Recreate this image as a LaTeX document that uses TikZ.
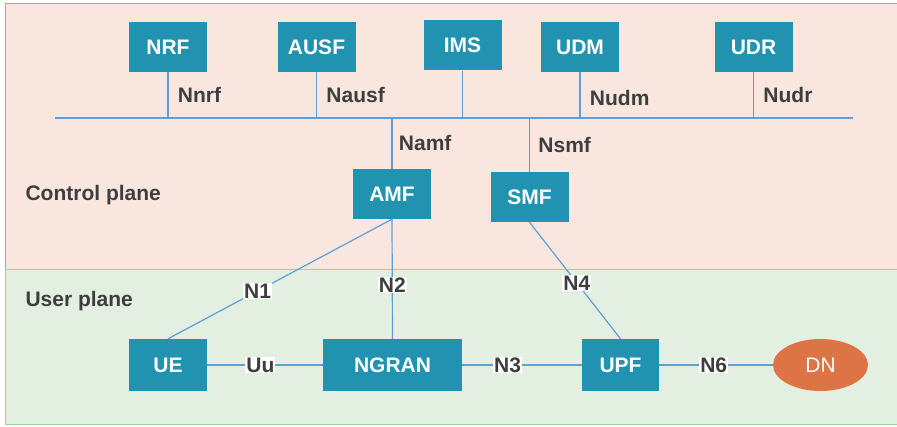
\documentclass[tikz,border=0pt]{standalone}
\usepackage{fontspec}
\setmainfont{Liberation Sans}
\definecolor{nfteal}{RGB}{33,147,176}
\definecolor{cpfill}{RGB}{248,230,223}
\definecolor{cpedge}{RGB}{241,145,107}
\definecolor{upfill}{RGB}{226,239,225}
\definecolor{upedge}{RGB}{150,214,150}
\definecolor{ifline}{RGB}{96,158,216}
\definecolor{dnorange}{RGB}{221,116,70}
\definecolor{lbgray}{RGB}{62,62,62}
\usetikzlibrary{shapes.geometric}

\begin{document}
\begin{tikzpicture}[x=1pt,y=-1pt,
    nfbox/.style={fill=nfteal,text=white,inner sep=0pt,
        minimum width=78pt,minimum height=50pt,
        font=\fontsize{21}{25}\selectfont\bfseries},
    iface/.style={draw=ifline,line width=1.2pt},
    ifname/.style={text=lbgray,font=\fontsize{21}{25}\selectfont\bfseries},
    iftag/.style={fill=white,inner sep=1pt,text=lbgray,
        font=\fontsize{21}{25}\selectfont\bfseries}]
  \useasboundingbox (0,0) rectangle (897,427);
  % Planes
  \draw[fill=cpfill,draw=cpedge,line width=1pt] (5,4) rectangle (902,270);
  \draw[fill=upfill,draw=upedge,line width=1pt] (5,270) rectangle (902,425);
  \node[ifname,anchor=west] (cplane) at (22,195) {Control plane};
  \node[ifname,anchor=west] (uplane) at (22,301) {User plane};
  % Network functions
  \node[nfbox] (nrf) at (168,47) {NRF};
  \node[nfbox] (ausf) at (316.5,47) {AUSF};
  \node[nfbox] (ims) at (462.5,45.5) {IMS};
  \node[nfbox] (udm) at (580,47) {UDM};
  \node[nfbox] (udr) at (753.5,47) {UDR};
  \node[nfbox] (amf) at (392,194) {AMF};
  \node[nfbox] (smf) at (529.5,197) {SMF};
  \node[nfbox,minimum height=52pt] (ue) at (168,365) {UE};
  \node[nfbox,minimum width=139pt,minimum height=52pt] (ngran) at (392.5,365) {NGRAN};
  \node[nfbox,minimum width=77pt,minimum height=52pt] (upf) at (620.5,365) {UPF};
  \node[ellipse,fill=dnorange,text=white,inner sep=0pt,
        minimum width=95pt,minimum height=52pt,
        font=\fontsize{21}{25}\selectfont] (dn) at (820.5,365) {DN};
  % Service bus
  \coordinate (busL) at (55,118);
  \coordinate (busR) at (853,118);
  \draw[iface] (busL) -- (busR);
  \draw[iface] (nrf.south) -- (nrf.south |- busL)
        node[midway,ifname,anchor=west,xshift=6pt] {Nnrf};
  \draw[iface] (ausf.south) -- (ausf.south |- busL)
        node[midway,ifname,anchor=west,xshift=6pt] {Nausf};
  \draw[iface] (ims.south) -- (ims.south |- busL);
  \draw[iface] (udm.south) -- (udm.south |- busL)
        node[midway,ifname,anchor=west,xshift=6pt,yshift=-3pt] {Nudm};
  \draw[iface] (udr.south) -- (udr.south |- busL)
        node[midway,ifname,anchor=west,xshift=6pt] {Nudr};
  \draw[iface] (amf.north) -- (amf.north |- busL)
        node[midway,ifname,anchor=west,xshift=3pt] {Namf};
  \draw[iface] (smf.north) -- (smf.north |- busL)
        node[midway,ifname,anchor=west,xshift=5pt] {Nsmf};
  % Reference points
  \draw[iface] (amf.south) -- (ue.north) node[pos=0.6,iftag] {N1};
  \draw[iface] (amf.south) -- (ngran.north) node[pos=0.55,iftag] {N2};
  \draw[iface] (smf.south) -- (upf.north) node[pos=0.52,iftag] {N4};
  \draw[iface] (ue.east) -- (ngran.west) node[pos=0.46,iftag] {Uu};
  \draw[iface] (ngran.east) -- (upf.west) node[pos=0.38,iftag] {N3};
  \draw[iface] (upf.east) -- (dn.west) node[pos=0.48,iftag] {N6};
\end{tikzpicture}
\end{document}
